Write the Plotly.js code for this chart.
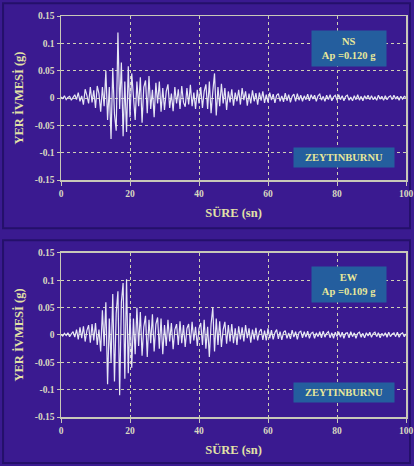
<!DOCTYPE html>
<html>
<head>
<meta charset="utf-8">
<script src="https://cdn.plot.ly/plotly-3.0.1.min.js"></script>
<style>
html,body{margin:0;padding:0;background:#ffffff;}
#chart{width:414px;height:466px;}
</style>
</head>
<body>
<div id="chart"></div>
<script>
// Sampling: every 0.5 s from 0 to 100 s
const startTime = 0;
const stepTime = 0.5;

// NS component acceleration (g), read from the upper record
const nsAccel = [
  0.002,-0.001,0.004,-0.003,0.001,0.003,-0.004,0.002,0.006,-0.003, 0.010,-0.006,0.004,-0.012,0.016,0.005,-0.010,0.020,-0.008,0.014,
  -0.018,0.022,0.008,-0.025,0.020,-0.015,0.050,-0.040,0.020,-0.075, 0.055,-0.030,-0.060,0.120,-0.020,0.065,-0.070,0.030,-0.062,0.058,
  -0.035,0.045,0.010,-0.040,0.030,-0.015,0.038,-0.045,0.020,0.032, -0.028,0.040,-0.020,0.015,-0.035,0.028,-0.010,0.030,-0.025,0.018,
  -0.022,0.012,0.025,-0.018,0.008,-0.024,0.020,-0.010,0.016,-0.020, 0.022,-0.008,-0.016,0.018,-0.012,0.024,-0.015,0.010,-0.020,0.015,
  -0.010,0.020,-0.018,0.012,0.025,-0.020,0.030,-0.028,0.012,0.045, -0.032,0.020,-0.015,0.026,-0.010,0.018,-0.022,0.012,-0.008,0.016,
  -0.014,0.010,-0.006,0.015,-0.012,0.018,-0.004,0.012,-0.014,0.008, -0.010,0.014,-0.006,0.009,-0.012,0.010,-0.005,0.012,-0.009,0.006,
  -0.008,0.010,-0.004,0.007,-0.009,0.005,0.008,-0.006,0.004,-0.007, 0.009,-0.005,0.006,-0.008,0.003,0.007,-0.006,0.008,-0.004,0.005,
  -0.006,0.004,-0.003,0.007,-0.005,0.006,-0.002,0.005,-0.006,0.004, 0.007,-0.004,0.003,-0.006,0.005,-0.003,0.006,-0.005,0.002,0.005,
  -0.004,0.006,-0.003,0.004,-0.005,0.003,0.005,-0.004,0.002,-0.005, 0.004,-0.003,0.006,-0.004,0.003,-0.005,0.004,-0.002,0.005,-0.003,
  0.004,-0.003,0.002,-0.004,0.005,-0.002,0.003,-0.004,0.004,-0.003, 0.002,0.004,-0.003,0.005,-0.002,0.003,-0.004,0.003,-0.002,0.003,
  0.001
];

// EW component acceleration (g), read from the lower record
const ewAccel = [
  0.001,-0.002,0.003,-0.001,0.004,-0.003,0.002,0.006,-0.004,0.010, -0.008,0.014,-0.006,0.016,-0.012,0.008,0.018,-0.014,0.020,-0.010,
  0.022,-0.018,0.010,-0.030,0.045,-0.020,0.060,-0.090,0.030,-0.050, 0.075,-0.085,0.040,0.080,-0.110,0.060,0.095,-0.080,0.102,-0.070,
  0.040,-0.060,0.030,-0.035,0.050,-0.020,0.042,-0.038,0.015,0.035, -0.040,0.028,-0.015,0.038,-0.030,0.020,0.032,-0.025,0.030,-0.035,
  0.018,-0.020,0.028,-0.012,0.022,-0.026,0.010,0.020,-0.018,0.025, -0.015,0.018,-0.022,0.012,0.020,-0.016,0.024,-0.010,0.015,-0.020,
  0.012,0.022,-0.018,0.028,-0.025,0.015,-0.040,0.020,0.050,-0.030, 0.030,-0.018,0.025,-0.022,0.010,0.024,-0.016,0.018,-0.012,0.020,
  -0.015,0.012,-0.018,0.016,-0.008,0.014,-0.012,0.018,-0.006,0.012, -0.014,0.010,-0.008,0.013,-0.010,0.006,0.011,-0.009,0.008,-0.010,
  0.012,-0.006,0.009,-0.008,0.004,0.010,-0.007,0.006,-0.009,0.005, 0.008,-0.006,0.004,-0.007,0.009,-0.004,0.006,-0.008,0.005,0.007,
  -0.005,0.006,-0.004,0.007,-0.006,0.003,0.005,-0.006,0.004,-0.003, 0.006,-0.005,0.007,-0.004,0.003,0.006,-0.005,0.004,-0.006,0.005,
  -0.003,0.006,-0.004,0.005,-0.006,0.003,0.004,-0.005,0.006,-0.003, 0.004,-0.006,0.003,0.005,-0.004,0.003,-0.005,0.004,-0.002,0.005,
  -0.004,0.003,0.005,-0.003,0.004,-0.005,0.003,-0.002,0.004,-0.004, 0.005,-0.003,0.002,0.004,-0.003,0.005,-0.004,0.002,0.004,-0.003,
  0.002
];

const xTickVals = [0, 20, 40, 60, 80, 100];
const yTickVals = [-0.15, -0.1, -0.05, 0, 0.05, 0.1, 0.15];
const yTickText = ['-0.15', '-0.1', '-0.05', '0', '0.05', '0.1', '0.15'];
const yTitle = 'YER İVMESİ (g)';
const xTitle = 'SÜRE (sn)';
const stationName = 'ZEYTINBURNU';
const nsLabel = 'NS<br>Ap =0.120 g';
const ewLabel = 'EW<br>Ap =0.109 g';

const BG = '#3a1a90';
const GRID = '#cfcfb4';
const FRAME = '#c8c8b8';
const TICKFONT = {family: 'Liberation Serif, serif', size: 9.5, color: '#d8d8c0', weight: 'bold'};
const TITLEFONT = {family: 'Liberation Serif, serif', size: 12.5, color: '#e2e2a6', weight: 'bold'};
const BOXFONT = {family: 'Liberation Serif, serif', size: 10.5, color: '#e8e89a', weight: 'bold'};
const BOXBG = '#245e9e';

function xAxis(anchor) {
  return {
    anchor: anchor, range: [0, 100], tickvals: xTickVals, ticktext: xTickVals.map(String),
    showgrid: true, gridcolor: GRID, griddash: '3px,3px', gridwidth: 1,
    showline: true, linecolor: FRAME, linewidth: 1.5, mirror: true,
    ticks: 'outside', ticklen: 4, tickcolor: FRAME,
    zeroline: false, tickfont: TICKFONT,
    title: {text: xTitle, font: TITLEFONT, standoff: 10}
  };
}
function yAxis(anchor, domain) {
  return {
    anchor: anchor, domain: domain, range: [-0.15, 0.15],
    tickvals: yTickVals, ticktext: yTickText,
    showgrid: true, gridcolor: GRID, griddash: '3px,3px', gridwidth: 1,
    showline: true, linecolor: FRAME, linewidth: 1.5, mirror: true,
    ticks: 'outside', ticklen: 3, tickcolor: FRAME,
    zeroline: false, tickfont: TICKFONT,
    title: {text: yTitle, font: TITLEFONT, standoff: 8}
  };
}

const traces = [
  {type: 'scatter', mode: 'lines', x0: startTime, dx: stepTime, y: nsAccel,
   xaxis: 'x', yaxis: 'y', line: {color: '#e6e6f4', width: 1.2}, hoverinfo: 'skip'},
  {type: 'scatter', mode: 'lines', x0: startTime, dx: stepTime, y: ewAccel,
   xaxis: 'x2', yaxis: 'y2', line: {color: '#e6e6f4', width: 1.2}, hoverinfo: 'skip'}
];

const layout = {
  width: 414, height: 466,
  margin: {l: 61, r: 8, t: 16, b: 49},
  paper_bgcolor: BG, plot_bgcolor: BG,
  showlegend: false,
  xaxis: xAxis('y'),
  yaxis: yAxis('x', [0.591, 1]),
  xaxis2: xAxis('y2'),
  yaxis2: yAxis('x2', [0, 0.409]),
  annotations: [
    {xref: 'x', yref: 'y', x: 83.5, y: 0.091, text: nsLabel, showarrow: false,
     font: BOXFONT, bgcolor: BOXBG, width: 72, height: 33, borderpad: 1},
    {xref: 'x', yref: 'y', x: 82, y: -0.108, text: stationName, showarrow: false,
     font: BOXFONT, bgcolor: BOXBG, width: 98, height: 17, borderpad: 1},
    {xref: 'x2', yref: 'y2', x: 83.5, y: 0.093, text: ewLabel, showarrow: false,
     font: BOXFONT, bgcolor: BOXBG, width: 72, height: 33, borderpad: 1},
    {xref: 'x2', yref: 'y2', x: 82, y: -0.106, text: stationName, showarrow: false,
     font: BOXFONT, bgcolor: BOXBG, width: 98, height: 17, borderpad: 1}
  ],
  shapes: [
    {type: 'rect', xref: 'paper', yref: 'paper', x0: -0.168, x1: 1.0116, y0: 0.471, y1: 1.032,
     line: {color: '#24106a', width: 2}, layer: 'below'},
    {type: 'rect', xref: 'paper', yref: 'paper', x0: -0.168, x1: 1.0116, y0: -0.115, y1: 0.441,
     line: {color: '#24106a', width: 2}, layer: 'below'}
  ]
};

Plotly.newPlot('chart', traces, layout, {staticPlot: true, displayModeBar: false});
</script>
</body>
</html>
